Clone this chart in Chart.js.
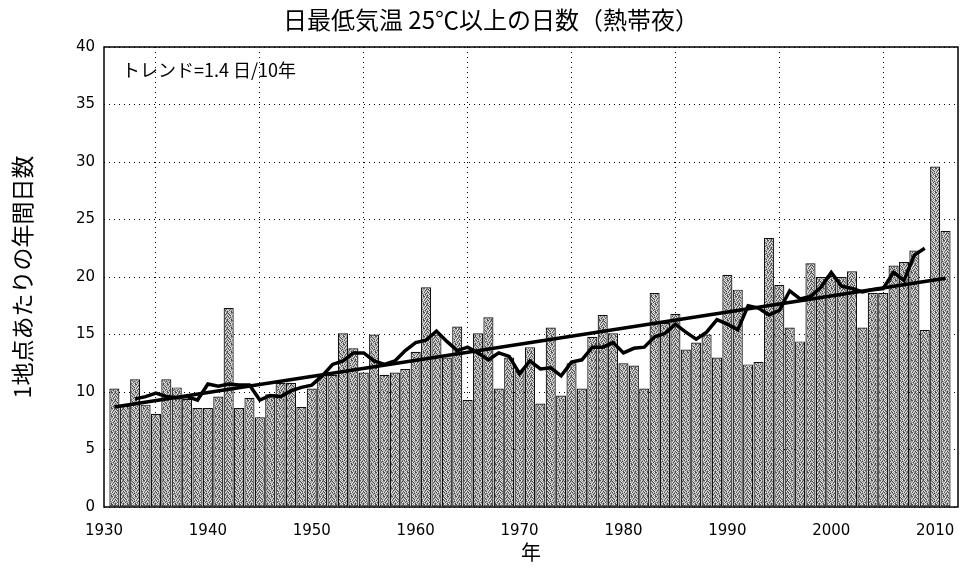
<!DOCTYPE html>
<html>
<head>
<meta charset="utf-8">
<script src="https://cdn.jsdelivr.net/npm/chart.js@4.4.1/dist/chart.umd.min.js"></script>
<style>
    html, body { margin: 0; padding: 0; background: #ffffff; }
</style>
</head>
<body>
<canvas id="tropical_nights" width="962" height="570"></canvas>
<script>
"use strict";
// Data
const years = [
    1931, 1932, 1933, 1934, 1935, 1936, 1937, 1938, 1939, 1940,
    1941, 1942, 1943, 1944, 1945, 1946, 1947, 1948, 1949, 1950,
    1951, 1952, 1953, 1954, 1955, 1956, 1957, 1958, 1959, 1960,
    1961, 1962, 1963, 1964, 1965, 1966, 1967, 1968, 1969, 1970,
    1971, 1972, 1973, 1974, 1975, 1976, 1977, 1978, 1979, 1980,
    1981, 1982, 1983, 1984, 1985, 1986, 1987, 1988, 1989, 1990,
    1991, 1992, 1993, 1994, 1995, 1996, 1997, 1998, 1999, 2000,
    2001, 2002, 2003, 2004, 2005, 2006, 2007, 2008, 2009, 2010,
    2011
];
const nights = [
    10.3, 8.8, 11.1, 8.9, 8.1, 11.1, 10.4, 9.4, 8.6, 8.6,
    9.6, 17.3, 8.6, 9.5, 7.8, 9.8, 10.8, 10.8, 8.7, 10.3,
    11.5, 11.5, 15.1, 13.8, 11.7, 15.0, 11.5, 11.7, 12.0, 13.5,
    19.1, 15.0, 13.0, 15.7, 9.3, 15.1, 16.5, 10.3, 13.0, 11.9,
    13.9, 9.0, 15.6, 9.7, 12.5, 10.3, 14.8, 16.7, 15.1, 12.5,
    12.3, 10.3, 18.6, 16.0, 16.8, 13.7, 14.3, 15.0, 13.0, 20.2,
    18.9, 12.4, 12.6, 23.4, 19.3, 15.6, 14.4, 21.2, 20.0, 20.1,
    20.0, 20.5, 15.6, 18.6, 18.6, 21.0, 21.3, 22.3, 15.4, 29.6,
    24.0
];
// 5-year running mean (1933-2009)
const mean_years = [
    1933, 1934, 1935, 1936, 1937, 1938, 1939, 1940,
    1941, 1942, 1943, 1944, 1945, 1946, 1947, 1948, 1949, 1950,
    1951, 1952, 1953, 1954, 1955, 1956, 1957, 1958, 1959, 1960,
    1961, 1962, 1963, 1964, 1965, 1966, 1967, 1968, 1969, 1970,
    1971, 1972, 1973, 1974, 1975, 1976, 1977, 1978, 1979, 1980,
    1981, 1982, 1983, 1984, 1985, 1986, 1987, 1988, 1989, 1990,
    1991, 1992, 1993, 1994, 1995, 1996, 1997, 1998, 1999, 2000,
    2001, 2002, 2003, 2004, 2005, 2006, 2007, 2008, 2009
];
const mean_values = [
    9.4, 9.6, 9.9, 9.6, 9.5, 9.6, 9.3, 10.7,
    10.5, 10.7, 10.6, 10.6, 9.3, 9.7, 9.6, 10.1, 10.4, 10.6,
    11.4, 12.4, 12.7, 13.4, 13.4, 12.7, 12.4, 12.7, 13.6, 14.3,
    14.5, 15.3, 14.4, 13.6, 13.9, 13.4, 12.8, 13.4, 13.1, 11.6,
    12.7, 12.0, 12.1, 11.4, 12.6, 12.8, 13.9, 13.9, 14.3, 13.4,
    13.8, 13.9, 14.8, 15.1, 15.9, 15.2, 14.6, 15.2, 16.3, 15.9,
    15.4, 17.5, 17.3, 16.7, 17.1, 18.8, 18.1, 18.3, 19.1, 20.4,
    19.2, 19.0, 18.7, 18.9, 19.0, 20.4, 19.7, 21.9, 22.5
];
// Linear trend (1.4 days / 10 years)
const trend_years = [1931, 2011];
const trend_values = [8.7, 19.9];
const x_ticks = [1930, 1940, 1950, 1960, 1970, 1980, 1990, 2000, 2010];
const y_ticks = [0, 5, 10, 15, 20, 25, 30, 35, 40];

const chart_title = "日最低気温 25℃以上の日数（熱帯夜）";
const trend_label = "トレンド=1.4 日/10年";
const y_title = "1地点あたりの年間日数";
const x_title = "年";

// Speckled Gray Fill Like The Scanned Bars
function makeBarPattern(ctx) {
    const mask = [
        "dlmdlmld",
        "mldmdlmm",
        "ldmlmdlm",
        "mmldlmdl",
        "dlmmdlml",
        "lmdlmmdm",
        "mdlmldlm",
        "lmmdmlmd",
    ];
    const shades = { d: "#4a4a4a", m: "#9c9c9c", l: "#e2e2e2" };
    const tile = document.createElement("canvas");
    tile.width = 8;
    tile.height = 8;
    const t = tile.getContext("2d");
    mask.forEach(function (row, y) {
        row.split("").forEach(function (ch, x) {
            t.fillStyle = shades[ch];
            t.fillRect(x, y, 1, 1);
        });
    });
    return ctx.createPattern(tile, "repeat");
}

const canvas = document.getElementById("tropical_nights");
const ctx = canvas.getContext("2d");
const bar_fill = makeBarPattern(ctx);

// Frame, Title And Trend Label
const frame_plugin = {
    id: "frameAndLabels",
    beforeDraw: function (chart) {
        const c = chart.ctx;
        c.save();
        c.fillStyle = "#ffffff";
        c.fillRect(0, 0, chart.width, chart.height);
        c.restore();
    },
    afterDraw: function (chart) {
        const c = chart.ctx;
        const area = chart.chartArea;
        c.save();
        c.strokeStyle = "#000000";
        c.lineWidth = 1.5;
        c.strokeRect(area.left, area.top, area.right - area.left, area.bottom - area.top);
        c.fillStyle = "#000000";
        c.textAlign = "center";
        c.textBaseline = "middle";
        c.font = "24px 'Noto Sans CJK JP'";
        c.fillText(chart_title, 491, 20);
        c.textAlign = "left";
        c.font = "18px 'Noto Sans CJK JP'";
        c.fillText(trend_label, 122, 70);
        c.restore();
    }
};

new Chart(ctx, {
    data: {
        datasets: [
            {
                type: "line",
                label: "5年移動平均",
                data: mean_years.map(function (y, i) { return { x: y, y: mean_values[i] }; }),
                borderColor: "#000000",
                borderWidth: 3.5,
                pointRadius: 0,
                tension: 0,
                order: 1,
            },
            {
                type: "line",
                label: "トレンド",
                data: trend_years.map(function (y, i) { return { x: y, y: trend_values[i] }; }),
                borderColor: "#000000",
                borderWidth: 3.5,
                pointRadius: 0,
                tension: 0,
                order: 1,
            },
            {
                type: "bar",
                label: "熱帯夜日数",
                data: years.map(function (y, i) { return { x: y, y: nights[i] }; }),
                backgroundColor: bar_fill,
                borderColor: "#111111",
                borderWidth: 1.2,
                borderSkipped: false,
                barPercentage: 0.97,
                categoryPercentage: 1,
                order: 2,
            },
        ]
    },
    options: {
        responsive: false,
        animation: false,
        devicePixelRatio: 1,
        layout: {
            padding: { top: 47, right: 4, bottom: 0, left: 0 }
        },
        scales: {
            x: {
                type: "linear",
                min: 1930,
                max: 2012.2,
                offset: false,
                afterFit: function (scale) {
                    scale.height = 63;
                    scale.paddingLeft = 0;
                    scale.paddingRight = 0;
                },
                afterBuildTicks: function (scale) {
                    scale.ticks = x_ticks.map(function (v) { return { value: v }; });
                },
                grid: { color: "#000000", lineWidth: 1, drawTicks: false },
                border: { display: false, dash: [1, 4] },
                ticks: {
                    color: "#000000",
                    padding: 15,
                    maxRotation: 0,
                    font: { family: "'DejaVu Sans'", size: 15 },
                    callback: function (value) { return String(value); },
                },
                title: {
                    display: true,
                    text: x_title,
                    color: "#000000",
                    font: { family: "'Noto Sans CJK JP'", size: 20 },
                    padding: { top: 0, bottom: 6 },
                },
            },
            y: {
                min: 0,
                max: 40,
                afterFit: function (scale) { scale.width = 104; },
                afterBuildTicks: function (scale) {
                    scale.ticks = y_ticks.map(function (v) { return { value: v }; });
                },
                grid: { color: "#000000", lineWidth: 1, drawTicks: false },
                border: { display: false, dash: [1, 4] },
                ticks: {
                    color: "#000000",
                    padding: 9,
                    font: { family: "'DejaVu Sans'", size: 15 },
                },
                title: {
                    display: true,
                    text: y_title,
                    color: "#000000",
                    font: { family: "'Noto Sans CJK JP'", size: 23 },
                    padding: { top: 8, bottom: 0 },
                },
            },
        },
        plugins: {
            legend: { display: false },
            tooltip: { enabled: false },
        },
    },
    plugins: [frame_plugin],
});
</script>
</body>
</html>
